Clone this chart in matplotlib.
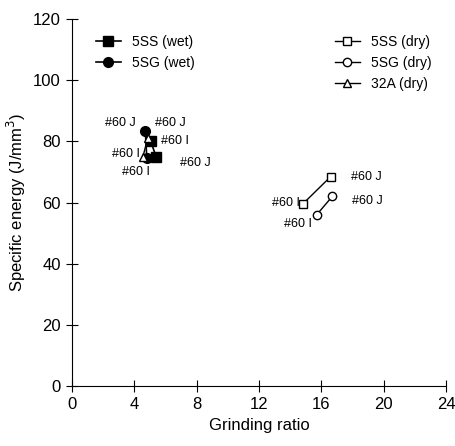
import matplotlib.pyplot as plt

plt.rcParams['font.family'] = ['Liberation Sans', 'DejaVu Sans']

# wet grinding
ss_wet_x = [5.05, 5.4]
ss_wet_y = [80.0, 75.0]
sg_wet_x = [4.7, 4.8]
sg_wet_y = [83.5, 74.5]
# dry grinding
ss_dry_x = [14.8, 16.6]
ss_dry_y = [59.5, 68.5]
sg_dry_x = [15.7, 16.7]
sg_dry_y = [56.0, 62.0]
a32_dry_x = [4.55, 4.85]
a32_dry_y = [75.0, 81.0]

# (text, x, y, alignment)
labels = [
    ('#60 J', 4.1, 86.0, 'right'), ('#60 J', 5.3, 86.0, 'left'),
    ('#60 I', 5.7, 80.0, 'left'), ('#60 I', 4.35, 76.0, 'right'),
    ('#60 J', 6.9, 73.0, 'left'), ('#60 I', 5.0, 70.0, 'right'),
    ('#60 J', 17.9, 68.5, 'left'), ('#60 J', 18.0, 60.5, 'left'),
    ('#60 I', 14.6, 60.0, 'right'), ('#60 I', 15.4, 53.0, 'right'),
]

fig = plt.figure(figsize=(4.56, 4.46), dpi=100)
ax = fig.add_axes([0.158, 0.1345, 0.82, 0.8225])

l1, = ax.plot(ss_wet_x, ss_wet_y, 'k-', marker='s', ms=7, mfc='k', lw=1.2)
l2, = ax.plot(sg_wet_x, sg_wet_y, 'k-', marker='o', ms=7, mfc='k', lw=1.2)
l3, = ax.plot(ss_dry_x, ss_dry_y, 'k-', marker='s', ms=6, mfc='white', lw=1)
l4, = ax.plot(sg_dry_x, sg_dry_y, 'k-', marker='o', ms=6, mfc='white', lw=1)
l5, = ax.plot(a32_dry_x, a32_dry_y, 'k-', marker='^', ms=6, mfc='white', lw=1)

for t, x, y, ha in labels:
    ax.text(x, y, t, fontsize=9, ha=ha, va='center')

leg1 = ax.legend([l1, l2], ['5SS (wet)', '5SG (wet)'], loc='upper left',
                 bbox_to_anchor=(0.03, 0.99), frameon=False, fontsize=10,
                 handlelength=1.8, labelspacing=0.5)
ax.add_artist(leg1)
ax.legend([l3, l4, l5], ['5SS (dry)', '5SG (dry)', '32A (dry)'],
          loc='upper right', bbox_to_anchor=(0.995, 0.99), frameon=False,
          fontsize=10, handlelength=1.8, labelspacing=0.5)

ax.set_xlim(0, 24)
ax.set_ylim(0, 120)
ax.set_xticks(range(0, 25, 4))
ax.set_yticks(range(0, 121, 20))
ax.spines['top'].set_visible(False)
ax.spines['right'].set_visible(False)
ax.tick_params(direction='inout', length=9, labelsize=12)
ax.set_xlabel('Grinding ratio', fontsize=12)
ax.set_ylabel('Specific energy (J/mm$^3$)', fontsize=12)

fig.savefig('out.png', dpi=100)
